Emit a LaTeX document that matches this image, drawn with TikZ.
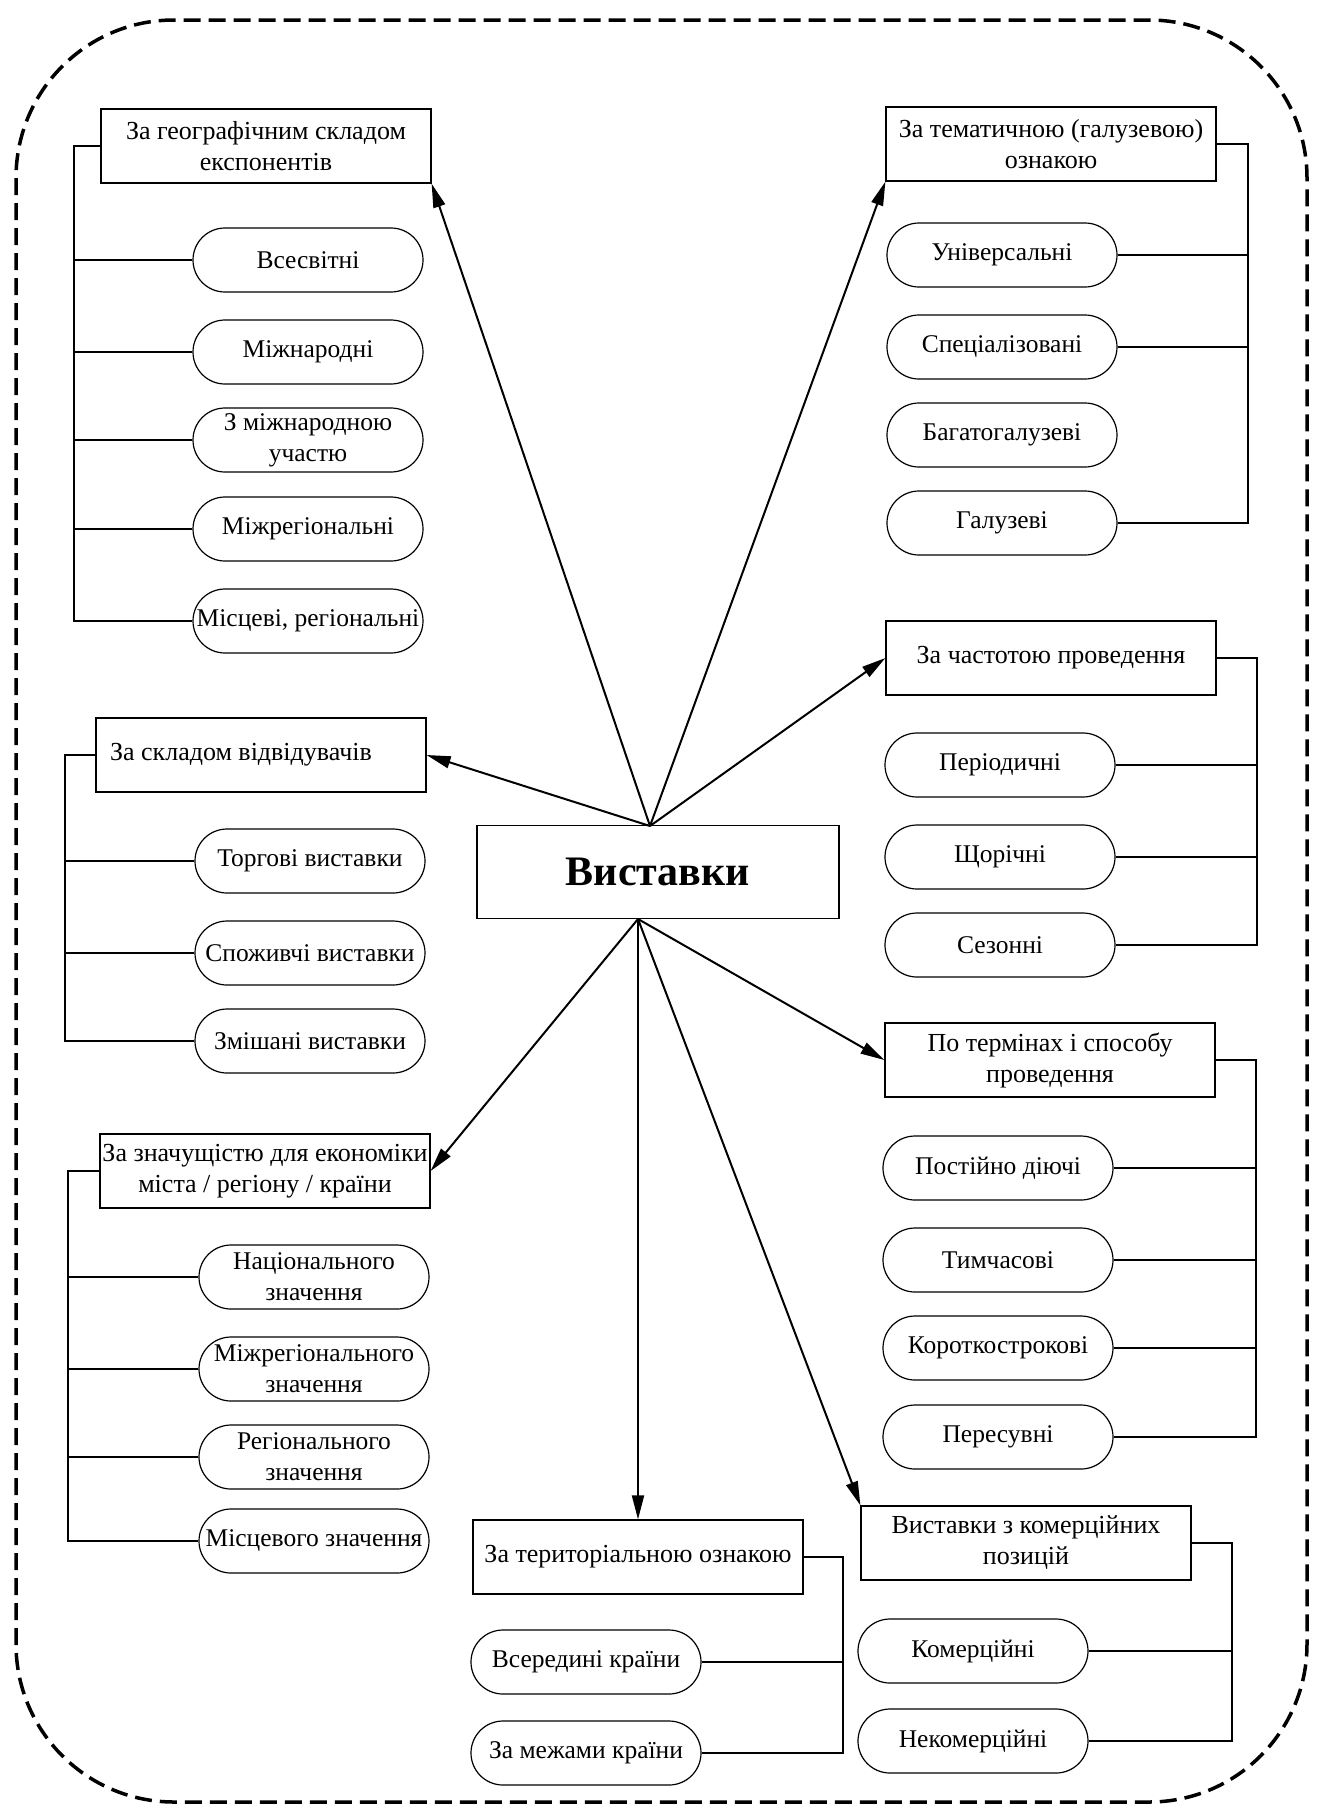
\documentclass[tikz,border=0pt]{standalone}
\usepackage{fontspec}
\setmainfont{Liberation Serif}
\usetikzlibrary{arrows.meta,calc}
\begin{document}
\begin{tikzpicture}[x=1pt,y=-1pt,
  hdr/.style={draw,line width=1.2pt,minimum width=330pt,minimum height=74pt,align=center,inner sep=2pt,font=\fontsize{26}{31}\selectfont},
  pill/.style={draw,line width=1.2pt,rounded corners=32pt,minimum width=230pt,minimum height=64pt,align=center,inner sep=2pt,font=\fontsize{25.5}{31}\selectfont},
  arr/.style={line width=2pt,-{Triangle[length=24pt,width=12pt]}},
  con/.style={line width=1.2pt}]
\useasboundingbox (0,0) rectangle (1321,1813);
% dashed frame
\draw[line width=3.5pt,dash pattern=on 17pt off 8pt,rounded corners=158pt] (16,20) rectangle (1307,1802);

% centre
\node[draw,line width=1.2pt,minimum width=362pt,minimum height=93pt,font=\fontsize{42}{50}\selectfont\bfseries] (c) at (658,872) {Виставки};
\coordinate (ct) at (650,826);
\coordinate (cb) at (638,919);

% headers
\node[hdr] (h1) at (266,146) {За географічним складом\\експонентів};
\node[hdr] (h2) at (1051,144) {За тематичною (галузевою)\\ознакою};
\node[hdr] (h3) at (1051,658) {За частотою проведення};
\node[hdr] (h4) at (261,755) {За складом відвідувачів\hspace*{40pt}};
\node[hdr] (h5) at (1050,1060) {По термінах і способу\\проведення};
\node[hdr] (h6) at (265,1171) {За значущістю для економіки\\міста / регіону / країни};
\node[hdr] (h7) at (638,1557) {За територіальною ознакою};
\node[hdr] (h8) at (1026,1543) {Виставки з комерційних\\позицій};

% group 1
\node[pill] (p11) at (308,260) {Всесвітні};
\node[pill] (p12) at (308,352) {Міжнародні};
\node[pill] (p13) at (308,440) {З міжнародною\\участю};
\node[pill] (p14) at (308,529) {Міжрегіональні};
\node[pill] (p15) at (308,621) {Місцеві, регіональні};
\coordinate (b1) at (74,0);
\draw[con] (h1.west) -- (h1.west -| b1) -- (p15.west -| b1) -- (p15.west);
\foreach \p in {p11,p12,p13,p14} \draw[con] (\p.west) -- (\p.west -| b1);

% group 2
\node[pill] (p21) at (1002,255) {Універсальні};
\node[pill] (p22) at (1002,347) {Спеціалізовані};
\node[pill] (p23) at (1002,435) {Багатогалузеві};
\node[pill] (p24) at (1002,523) {Галузеві};
\coordinate (b2) at (1248,0);
\draw[con] (h2.east) -- (h2.east -| b2) -- (p24.east -| b2) -- (p24.east);
\foreach \p in {p21,p22} \draw[con] (\p.east) -- (\p.east -| b2);

% group 3
\node[pill] (p31) at (1000,765) {Періодичні};
\node[pill] (p32) at (1000,857) {Щорічні};
\node[pill] (p33) at (1000,945) {Сезонні};
\coordinate (b3) at (1257,0);
\draw[con] (h3.east) -- (h3.east -| b3) -- (p33.east -| b3) -- (p33.east);
\foreach \p in {p31,p32} \draw[con] (\p.east) -- (\p.east -| b3);

% group 4
\node[pill] (p41) at (310,861) {Торгові виставки};
\node[pill] (p42) at (310,953) {Споживчі виставки};
\node[pill] (p43) at (310,1041) {Змішані виставки};
\coordinate (b4) at (65,0);
\draw[con] (h4.west) -- (h4.west -| b4) -- (p43.west -| b4) -- (p43.west);
\foreach \p in {p41,p42} \draw[con] (\p.west) -- (\p.west -| b4);

% group 5
\node[pill] (p51) at (998,1168) {Постійно діючі};
\node[pill] (p52) at (998,1260) {Тимчасові};
\node[pill] (p53) at (998,1348) {Короткострокові};
\node[pill] (p54) at (998,1437) {Пересувні};
\coordinate (b5) at (1256,0);
\draw[con] (h5.east) -- (h5.east -| b5) -- (p54.east -| b5) -- (p54.east);
\foreach \p in {p51,p52,p53} \draw[con] (\p.east) -- (\p.east -| b5);

% group 6
\node[pill] (p61) at (314,1277) {Національного\\значення};
\node[pill] (p62) at (314,1369) {Міжрегіонального\\значення};
\node[pill] (p63) at (314,1457) {Регіонального\\значення};
\node[pill] (p64) at (314,1541) {Місцевого значення};
\coordinate (b6) at (68,0);
\draw[con] (h6.west) -- (h6.west -| b6) -- (p64.west -| b6) -- (p64.west);
\foreach \p in {p61,p62,p63} \draw[con] (\p.west) -- (\p.west -| b6);

% group 7
\node[pill] (p71) at (586,1662) {Всередині країни};
\node[pill] (p72) at (586,1753) {За межами країни};
\coordinate (b7) at (843,0);
\draw[con] (h7.east) -- (h7.east -| b7) -- (p72.east -| b7) -- (p72.east);
\draw[con] (p71.east) -- (p71.east -| b7);

% group 8
\node[pill] (p81) at (973,1651) {Комерційні};
\node[pill] (p82) at (973,1741) {Некомерційні};
\coordinate (b8) at (1232,0);
\draw[con] (h8.east) -- (h8.east -| b8) -- (p82.east -| b8) -- (p82.east);
\draw[con] (p81.east) -- (p81.east -| b8);

% arrows
\draw[arr] (ct) -- (h1.south east);
\draw[arr] (ct) -- (h2.south west);
\draw[arr] (ct) -- (h3.west);
\draw[arr] (ct) -- (h4.east);
\draw[arr] (cb) -- (h6.east);
\draw[arr] (cb) -- (h7.north);
\draw[arr] (cb) -- (h5.west);
\draw[arr] (cb) -- (h8.north west);
\end{tikzpicture}
\end{document}
